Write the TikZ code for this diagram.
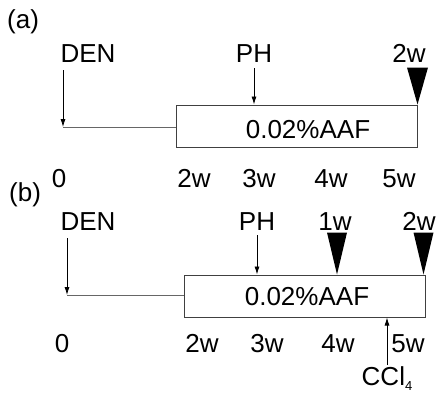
\documentclass[tikz,border=0pt]{standalone}
\usepackage{fontspec}
\setmainfont{Liberation Sans}
\usepackage{tikz}
\usetikzlibrary{arrows.meta,positioning,calc}

\begin{document}
\begin{tikzpicture}[
  x=1pt,y=-1pt,
  font=\fontsize{26}{30}\selectfont,
  lbl/.style={inner sep=0pt,anchor=base},
  box/.style={draw=black!75,line width=1pt,inner sep=0pt},
  arr/.style={-{Latex[length=8pt,width=5pt]},line width=0.8pt},
  link/.style={draw=black!60,line width=1pt},
  tri/.style={fill=black},
]
\useasboundingbox (0,0) rectangle (437,392);
% panel (a)
\node[lbl,anchor=base west] (tagA) at (7,28) {(a)};
\node[lbl] (denA) at (88,62) {DEN};
\node[lbl] (phA) at (254,62) {PH};
\node[lbl] (wkA) at (409,62) {2w};
\node[box,minimum width=241pt,minimum height=42pt] (boxA) at (296.5,126) {};
\node[lbl] (aafA) at (308,138) {0.02\%AAF};
\coordinate (cornA) at (63,127);
\node[lbl] (t0A) at (59,187) {0};
\node[lbl] (t2A) at (194,187) {2w};
\node[lbl] (t3A) at (259,187) {3w};
\node[lbl] (t4A) at (331,187) {4w};
\node[lbl] (t5A) at (399,187) {5w};
\draw[arr] ([yshift=-8pt]denA.south -| cornA) -- (cornA);
\draw[link] (cornA) -- (boxA.west |- cornA);
\draw[arr] ([yshift=-6pt]phA.south) -- (phA.south |- boxA.north);
\fill[tri] (boxA.north east) -- ++(-10.5,-37) -- ++(21,0) -- cycle;
% panel (b)
\node[lbl,anchor=base west] (tagB) at (9,201) {(b)};
\node[lbl] (denB) at (88,230) {DEN};
\node[lbl] (phB) at (257,230) {PH};
\node[lbl] (w1B) at (335,230) {1w};
\node[lbl] (w2B) at (419,230) {2w};
\node[box,minimum width=241pt,minimum height=42pt] (boxB) at (304.5,296) {};
\node[lbl] (aafB) at (307,305) {0.02\%AAF};
\coordinate (cornB) at (67,295);
\node[lbl] (t0B) at (62,352) {0};
\node[lbl] (t2B) at (202,352) {2w};
\node[lbl] (t3B) at (267,352) {3w};
\node[lbl] (t4B) at (338,352) {4w};
\node[lbl] (t5B) at (408,352) {5w};
\node[lbl] (cclB) at (387,385) {CCl\raisebox{-5pt}{\fontsize{13}{14}\selectfont 4}};
\draw[arr] ([yshift=20pt]cclB.base) -- (cclB.base |- boxB.south);
\draw[arr] ([yshift=-8pt]denB.south -| cornB) -- (cornB);
\draw[link] (cornB) -- (boxB.west |- cornB);
\draw[arr] ([yshift=-5pt]phB.south) -- (phB.south |- boxB.north);
\fill[tri] ($(w1B.south |- boxB.north)+(2,0)$) -- ++(-10,-42) -- ++(20,0) -- cycle;
\fill[tri] ($(boxB.north east)+(-2,0)$) -- ++(-10,-42) -- ++(20,0) -- cycle;
\end{tikzpicture}
\end{document}
